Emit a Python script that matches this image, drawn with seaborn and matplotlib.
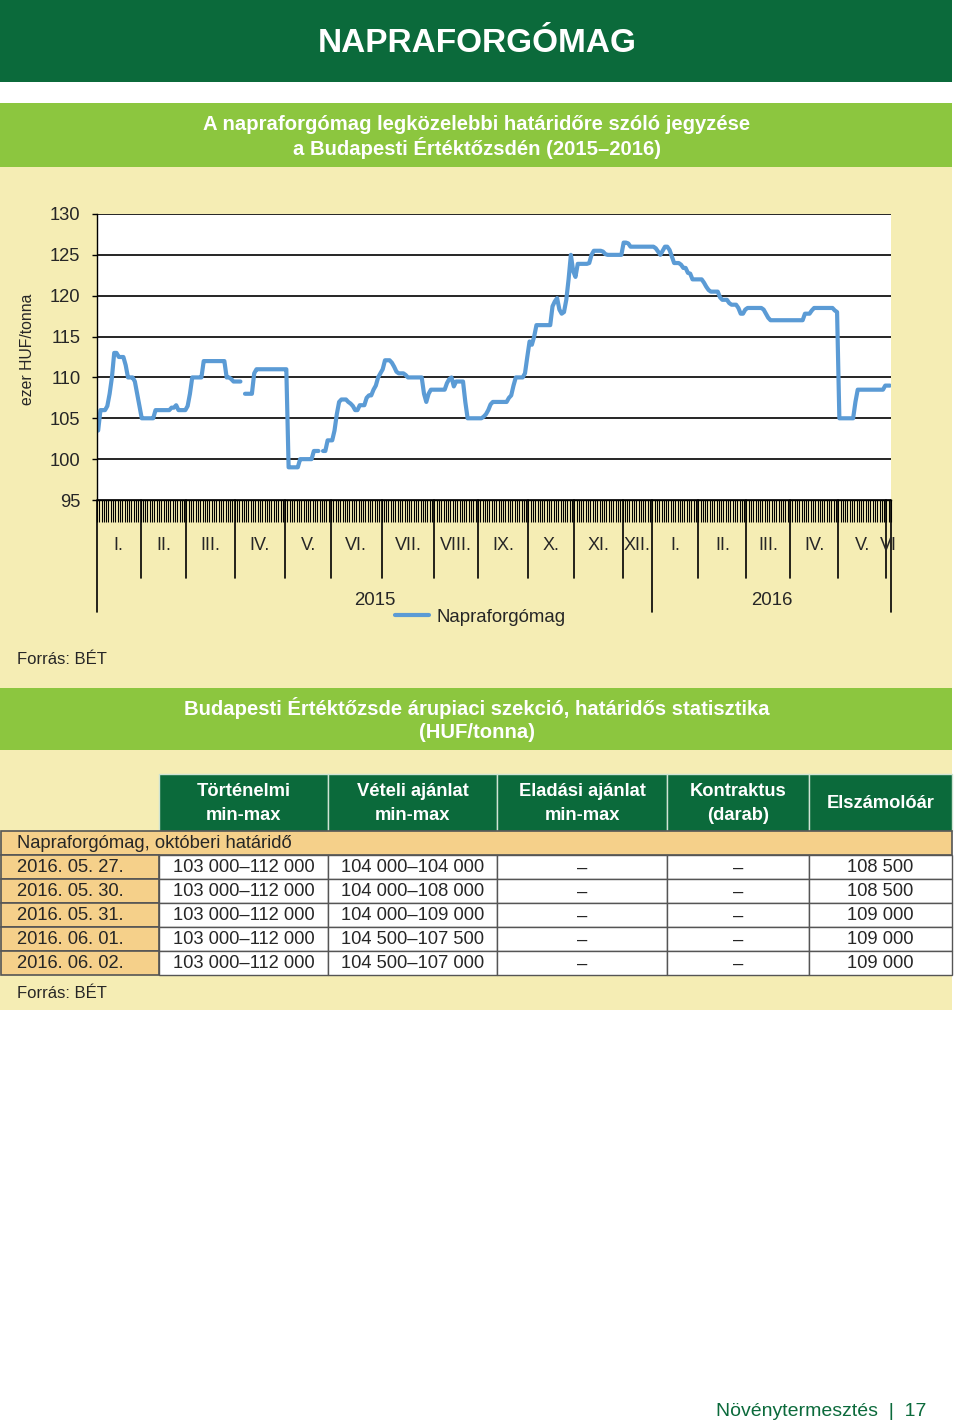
import numpy as np
import pandas as pd
import matplotlib
matplotlib.use("Agg")
import matplotlib.pyplot as plt
import matplotlib.transforms as mtransforms
from matplotlib.patches import Rectangle
import seaborn as sns

# napi jegyzés, ezer HUF/tonna, hónaponként (nan = nincs adat)
nan = np.nan
jan15 = [103.5, 106, 106, 106, 106.5, 108, 110, 113, 113, 112.5, 112.5, 112.5, 111.5, 110, 110, 110, 109.5, 108, 106.5]
feb15 = [105, 105, 105, 105, 105, 105, 106, 106, 106, 106, 106, 106, 106, 106.3, 106.3, 106.6, 106, 106, 106, 106]
mar15 = [106.5, 108, 110, 110, 110, 110, 110, 112, 112, 112, 112, 112, 112, 112, 112, 112, 112, 110, 110, 109.8, 109.5]
apr15 = [109.5, 109.5, 109.5, nan, 108, 108, 108, 108, 110.5, 111, 111, 111, 111, 111, 111, 111, 111, 111, 111, 111, 111, 111]
may15 = [111, 99, 99, 99, 99, 99, 100, 100, 100, 100, 100, 100, 101, 101, 101, nan, 101, 101, 102.3, 102.3]
jun15 = [102.3, 103.5, 105.5, 107, 107.3, 107.3, 107.3, 107, 106.8, 106.5, 106, 106, 106.6, 106.6, 106.6, 107.5, 107.8, 107.8, 108.5, 109, 110, 110.5]
jul15 = [111, 112.1, 112.1, 112.1, 111.8, 111.3, 110.7, 110.5, 110.5, 110.5, 110.3, 110, 110, 110, 110, 110, 110, 110, 108, 107, 108, 108.5, 108.5]
aug15 = [108.5, 108.5, 108.5, 108.5, 108.5, 109.3, 109.8, 110, 108.9, 109.5, 109.5, 109.5, 109.5, 107, 105, 105, 105, 105, 105]
sep15 = [105, 105, 105.2, 105.5, 106, 106.7, 107, 107, 107, 107, 107, 107, 107, 107.5, 107.8, 109, 110, 110, 110, 110, 110.5, 112.5]
oct15 = [114.4, 114, 115, 116.4, 116.4, 116.4, 116.4, 116.4, 116.4, 116.4, 118.7, 119.3, 119.7, 118.3, 117.8, 118, 119.5, 122, 125, 123]
nov15 = [122.3, 123.9, 123.9, 123.9, 123.9, 123.9, 124, 125, 125.5, 125.5, 125.5, 125.5, 125.4, 125.1, 125, 125, 125, 125, 125, 125, 125]
dec15 = [126.5, 126.5, 126.4, 126, 126, 126, 126, 126, 126, 126, 126, 126, 126]
jan16 = [126, 125.8, 125.4, 125, 125.5, 126, 126, 125.6, 124.8, 124, 124, 124, 123.8, 123.4, 123.4, 122.8, 122.7, 122, 122, 122]
feb16 = [122, 122, 121.6, 121.1, 120.7, 120.5, 120.5, 120.5, 120.5, 119.8, 119.5, 119.5, 119.5, 119.1, 118.9, 118.9, 118.9, 118.5, 117.8, 117.8, 118.3]
mar16 = [118.5, 118.5, 118.5, 118.5, 118.5, 118.5, 118.5, 118.3, 117.8, 117.3, 117, 117, 117, 117, 117, 117, 117, 117, 117]
apr16 = [117, 117, 117, 117, 117, 117, 117.8, 117.8, 117.8, 118.2, 118.5, 118.5, 118.5, 118.5, 118.5, 118.5, 118.5, 118.5, 118.5, 118.2, 118]
may16 = [105, 105, 105, 105, 105, 105, 105, 107, 108.5, 108.5, 108.5, 108.5, 108.5, 108.5, 108.5, 108.5, 108.5, 108.5, 108.5, 108.5, 109]
jun16 = [109, 109]

months = [jan15, feb15, mar15, apr15, may15, jun15, jul15, aug15, sep15, oct15, nov15, dec15,
          jan16, feb16, mar16, apr16, may16, jun16]
month_labels = ["I.", "II.", "III.", "IV.", "V.", "VI.", "VII.", "VIII.", "IX.", "X.", "XI.", "XII.",
                "I.", "II.", "III.", "IV.", "V.", "VI"]
years = ["2015", "2016"]
months_per_year = [12, 6]
y_ticks = [95, 100, 105, 110, 115, 120, 125, 130]

# táblázat
table_header = [["Történelmi", "min-max"], ["Vételi ajánlat", "min-max"], ["Eladási ajánlat", "min-max"],
                ["Kontraktus", "(darab)"], ["Elszámolóár"]]
table_section = "Napraforgómag, októberi határidő"
table_dates = ["2016. 05. 27.", "2016. 05. 30.", "2016. 05. 31.", "2016. 06. 01.", "2016. 06. 02."]
hist_minmax = ["103 000–112 000"] * 5
bid_minmax = ["104 000–104 000", "104 000–108 000", "104 000–109 000", "104 500–107 500", "104 500–107 000"]
ask_minmax = ["–", "–", "–", "–", "–"]
contracts = ["–", "–", "–", "–", "–"]
settle = ["108 500", "108 500", "109 000", "109 000", "109 000"]

DARK = "#0b6a3b"
LIGHT = "#8cc63f"
PALE = "#f5edb4"
TAN = "#f5d08a"
BLUE = "#5b9bd5"

sns.set_style("white")
plt.rcParams["font.family"] = ["Liberation Sans", "DejaVu Sans"]

# adatok
vals = np.concatenate([np.array(m, dtype=float) for m in months])
n = len(vals)
df = pd.DataFrame({"x": np.arange(n) + 0.5, "y": vals})
df["seg"] = np.cumsum(np.isnan(vals))
df = df.dropna()

fig = plt.figure(figsize=(9.6, 14.26), dpi=100)
bg = fig.add_axes([0, 0, 1, 1], zorder=0)
bg.set_xlim(0, 960)
bg.set_ylim(1426, 0)
bg.axis("off")


def box(x0, y0, x1, y1, color, **kw):
    bg.add_patch(Rectangle((x0, y0), x1 - x0, y1 - y0, facecolor=color, **kw))


box(0, 0, 952, 82, DARK, lw=0)
box(0, 103, 952, 167, LIGHT, lw=0)
box(0, 167, 952, 688, PALE, lw=0)
box(0, 688, 952, 750, LIGHT, lw=0)
box(0, 750, 952, 1010, PALE, lw=0)

bg.text(477, 43, "NAPRAFORGÓMAG", color="white", fontsize=24, fontweight="bold", ha="center", va="center")
bg.text(477, 124, "A napraforgómag legközelebbi határidőre szóló jegyzése",
        color="white", fontsize=14.6, fontweight="bold", ha="center", va="center")
bg.text(477, 148, "a Budapesti Értéktőzsdén (2015–2016)",
        color="white", fontsize=14.6, fontweight="bold", ha="center", va="center")
bg.text(477, 708, "Budapesti Értéktőzsde árupiaci szekció, határidős statisztika",
        color="white", fontsize=14.6, fontweight="bold", ha="center", va="center")
bg.text(477, 733, "(HUF/tonna)", color="white", fontsize=14.6, fontweight="bold", ha="center", va="center")
bg.text(17, 660, "Forrás: BÉT", fontsize=12, va="center")
bg.text(17, 993, "Forrás: BÉT", fontsize=12, va="center")
bg.text(926, 1412, "Növénytermesztés  |  17", color=DARK, fontsize=14, ha="right", va="center")
bg.text(28, 349, "ezer HUF/tonna", fontsize=11.3, rotation=90, ha="center", va="center")

# táblázat rajzolása
col_x = [159, 328, 497, 667, 809, 952]
for k, h in enumerate(table_header):
    box(col_x[k], 774, col_x[k + 1], 831, DARK, edgecolor="#cfe3d3", lw=1)
    xc = (col_x[k] + col_x[k + 1]) / 2
    if len(h) == 2:
        bg.text(xc, 792, h[0], color="white", fontsize=13.2, fontweight="bold", ha="center", va="center")
        bg.text(xc, 815, h[1], color="white", fontsize=13.2, fontweight="bold", ha="center", va="center")
    else:
        bg.text(xc, 803, h[0], color="white", fontsize=13.2, fontweight="bold", ha="center", va="center")
box(1, 831, 952, 855, TAN, edgecolor="#555555", lw=1.2)
bg.text(17, 844, table_section, fontsize=13.2, va="center")
columns = [hist_minmax, bid_minmax, ask_minmax, contracts, settle]
for r, d in enumerate(table_dates):
    y0 = 855 + 24 * r
    box(1, y0, col_x[0], y0 + 24, TAN, edgecolor="#555555", lw=1.2)
    bg.text(17, y0 + 13, d, fontsize=13.2, va="center")
    for k, col in enumerate(columns):
        box(col_x[k], y0, col_x[k + 1], y0 + 24, "white", edgecolor="#555555", lw=1)
        bg.text((col_x[k] + col_x[k + 1]) / 2, y0 + 13, col[r], fontsize=13.2, ha="center", va="center")

# grafikon
ax = fig.add_axes([97 / 960, 1 - 500 / 1426, 794 / 960, 286 / 1426], zorder=1)
ax.set_facecolor("white")
ax.set_axisbelow(True)
sns.lineplot(data=df, x="x", y="y", units="seg", estimator=None, color=BLUE, linewidth=3.0,
             sort=True, ax=ax)
line_handle = ax.get_lines()[0]

ax.set_xlim(0, n)
ax.set_ylim(95, 130)
ax.set_yticks(y_ticks)
ax.yaxis.grid(True, color="black", linewidth=1.2)
ax.set_xticks([])
ax.set_xticks(np.arange(n + 1), minor=True)
ax.tick_params(axis="x", which="minor", bottom=True, length=15.8, width=0.8, direction="out", color="black")
ax.tick_params(axis="y", left=True, length=3.6, width=1, pad=8.4, labelsize=13.2, color="black")
ax.set_xlabel("")
ax.set_ylabel("")
for s in ["top", "right"]:
    ax.spines[s].set_visible(False)
for s in ["left", "bottom"]:
    ax.spines[s].set_color("black")
    ax.spines[s].set_linewidth(1)

trans = mtransforms.blended_transform_factory(ax.transData, ax.transAxes)
counts = [len(m) for m in months]
bounds = np.concatenate([[0], np.cumsum(counts)])
year_bounds = [bounds[0], bounds[months_per_year[0]], bounds[-1]]
for b in bounds:
    bottom = -112 / 286 if b in year_bounds else -78 / 286
    ax.plot([b, b], [0, bottom], transform=trans, color="black", lw=1.2, clip_on=False)
for k, lab in enumerate(month_labels):
    ax.text((bounds[k] + bounds[k + 1]) / 2, -45 / 286, lab, transform=trans, fontsize=13,
            ha="center", va="center")
for k, yr in enumerate(years):
    ax.text((year_bounds[k] + year_bounds[k + 1]) / 2, -100 / 286, yr, transform=trans, fontsize=13.4,
            ha="center", va="center")

ax.legend([line_handle], ["Napraforgómag"], loc="center", bbox_to_anchor=(480 / 960, 1 - 617 / 1426),
          bbox_transform=fig.transFigure, frameon=False, fontsize=13.4, handlelength=1.85,
          handletextpad=0.4, borderpad=0)

fig.savefig("out.png", dpi=100, facecolor="white")
